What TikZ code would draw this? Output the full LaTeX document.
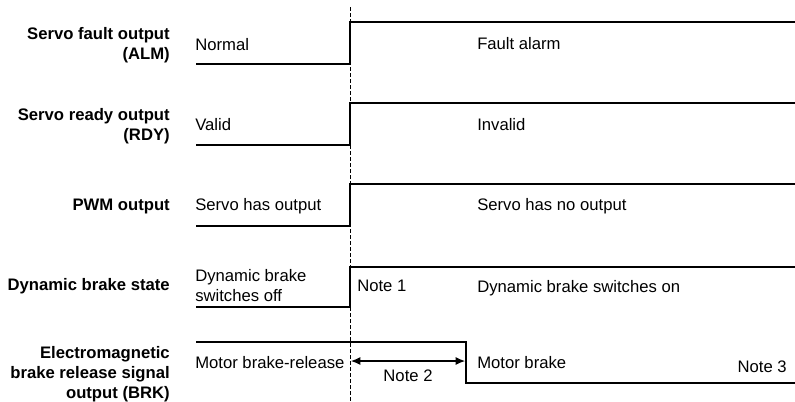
\documentclass[tikz,border=0pt]{standalone}
\usepackage{fontspec}
\setmainfont{Liberation Sans}
\usepackage{tikz}
\usetikzlibrary{arrows.meta,positioning}
\newcommand{\sigfont}{\fontsize{12.5}{15}\selectfont}

\begin{document}
\begin{tikzpicture}[
  x=0.75pt, y=-0.75pt,
  signame/.style={anchor=base east, align=right, inner sep=0pt, font=\sigfont\bfseries},
  statetext/.style={anchor=base west, align=left, inner sep=0pt, font=\sigfont},
  wave/.style={line width=0.8pt},
  marker/.style={line width=0.6pt, dash pattern=on 3pt off 1.5pt},
  span/.style={{Latex[length=7pt,width=6pt]}-{Latex[length=7pt,width=6pt]}, line width=0.8pt}
]
\useasboundingbox (0,0) rectangle (795,401);
% signal names
\node[signame] (alm) at (170,59) {Servo fault output\\(ALM)};
\node[signame] (rdy) at (170,140) {Servo ready output\\(RDY)};
\node[signame] (pwm) at (170,210) {PWM output};
\node[signame] (dbs) at (170,290) {Dynamic brake state};
\node[signame] (brk) at (170,398) {Electromagnetic\\brake release signal\\output (BRK)};
% states before the fault
\node[statetext] (almlo) at (195,50) {Normal};
\node[statetext] (rdylo) at (195,130) {Valid};
\node[statetext] (pwmlo) at (195,210) {Servo has output};
\node[statetext] (dbslo) at (195,301) {Dynamic brake\\switches off};
\node[statetext] (brklo) at (195,368) {Motor brake-release};
% states after the fault
\node[statetext] (almhi) at (477,49) {Fault alarm};
\node[statetext] (rdyhi) at (477,130) {Invalid};
\node[statetext] (pwmhi) at (477,210) {Servo has no output};
\node[statetext] (note1) at (357,291) {Note 1};
\node[statetext] (dbshi) at (477,292) {Dynamic brake switches on};
\node[statetext] (brkhi) at (477,368) {Motor brake};
\node[statetext, anchor=base east] (note3) at (787,372) {Note 3};
% waveforms
\draw[wave] (196,64) -- (350,64) -- (350,22) -- (795,22);
\draw[wave] (196,145) -- (350,145) -- (350,103) -- (795,103);
\draw[wave] (196,226) -- (350,226) -- (350,184) -- (795,184);
\draw[wave] (196,307) -- (350,307) -- (350,267) -- (795,267);
\draw[wave] (196,342) -- (466,342) -- (466,383) -- (795,383);
% fault instant
\coordinate (ftop) at (350,7);
\coordinate (fbot) at (350,401);
\draw[marker] (ftop) -- (fbot);
% brake delay
\coordinate (dly1) at (351,361);
\coordinate (dly2) at (465,361);
\draw[span] (dly1) -- node[below=6pt, inner sep=0pt, font=\sigfont] (note2) {Note 2} (dly2);
\end{tikzpicture}
\end{document}
